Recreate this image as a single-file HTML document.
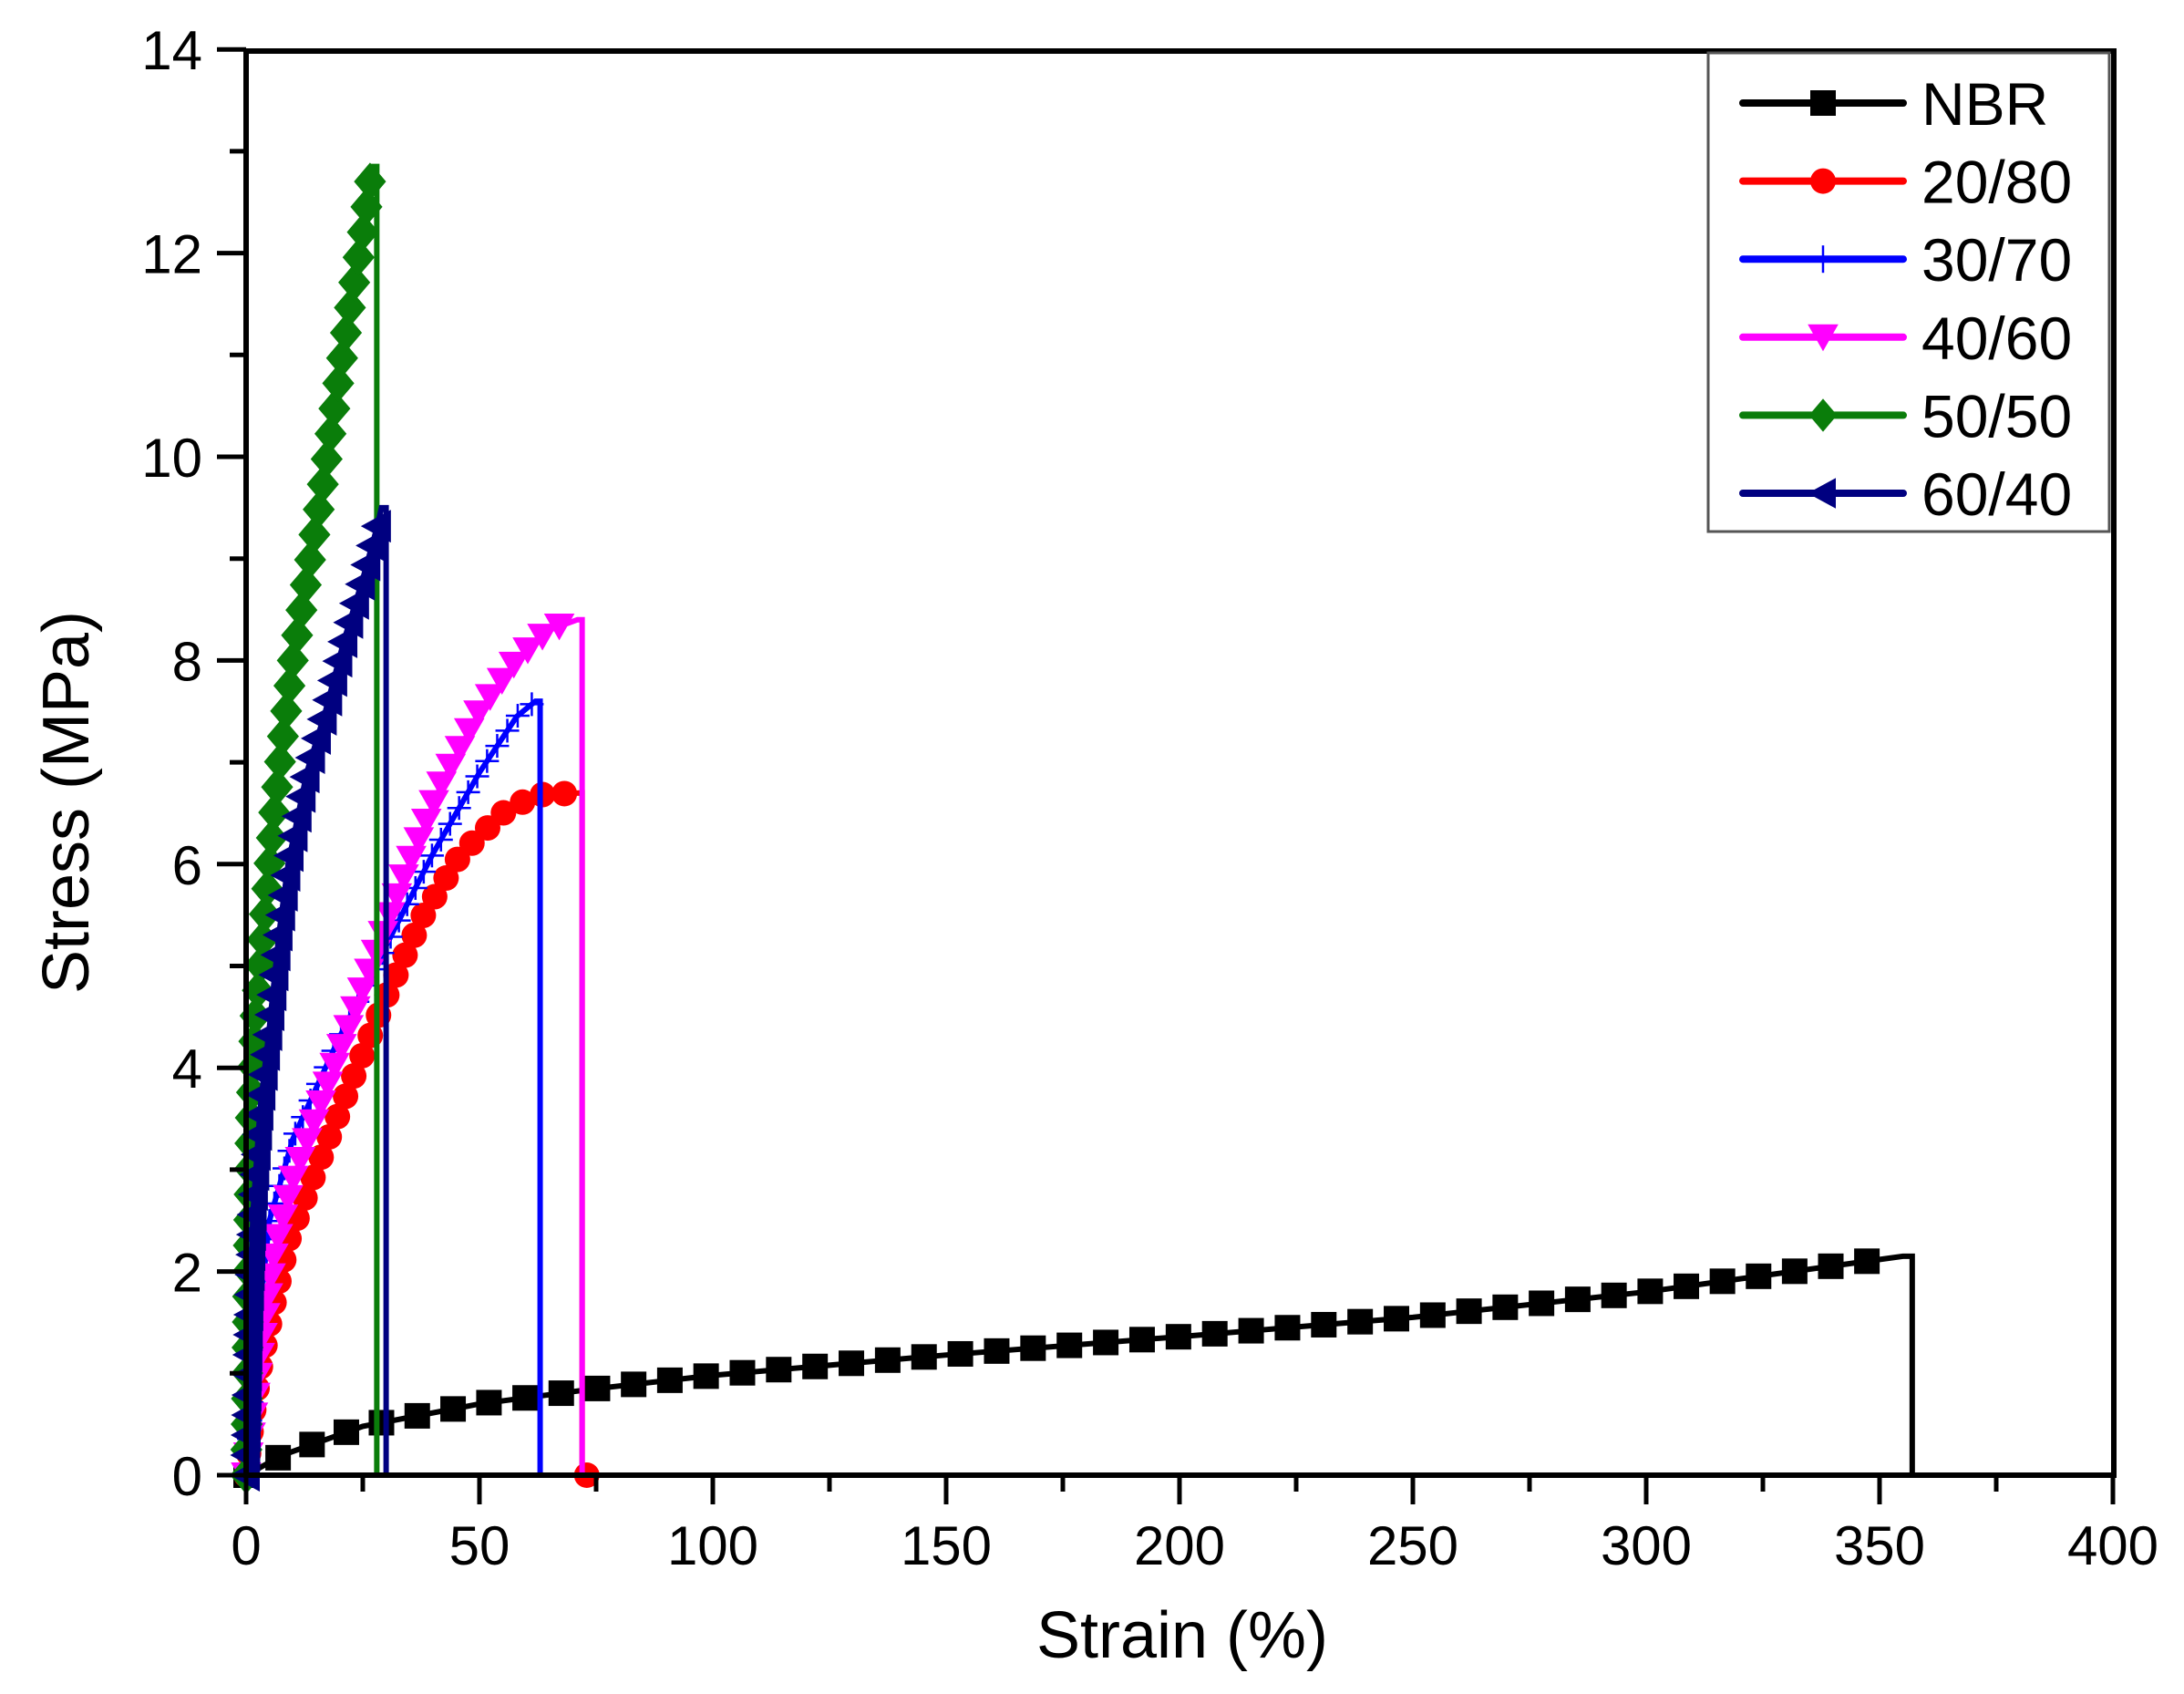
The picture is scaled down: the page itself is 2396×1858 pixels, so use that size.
<!DOCTYPE html>
<html><head><meta charset="utf-8"><style>
html,body{margin:0;padding:0;background:#fff;}
svg{display:block;font-family:"Liberation Sans",Arial,sans-serif;}
</style></head><body>
<svg id="s" width="2396" height="1858" viewBox="0 0 2396 1858" xmlns="http://www.w3.org/2000/svg">
<rect width="2396" height="1858" fill="#fff"/>
<g id="data"></g>
<rect x="270" y="56" width="2049" height="1562" fill="none" stroke="#000" stroke-width="6"/>
<g id="axes" stroke="#000" stroke-width="5"></g>
<g id="labels" font-size="60" fill="#000"></g>
<text x="1297" y="1818" font-size="72" text-anchor="middle">Strain (%)</text>
<text transform="translate(97,880) rotate(-90)" font-size="72" text-anchor="middle">Stress (MPa)</text>
<rect x="1874" y="58" width="440" height="525" fill="#fff" stroke="#555" stroke-width="3"/>
<g id="legend"></g>
</svg>
<script>
const NS="http://www.w3.org/2000/svg";
const X=v=>270+v*5.12, Y=s=>1618-s*111.7;
function el(t,a,p){const e=document.createElementNS(NS,t);for(const k in a)e.setAttribute(k,a[k]);(p||document.getElementById('data')).appendChild(e);return e;}
const ax=document.getElementById('axes'), lb=document.getElementById('labels');
for(let v=0;v<=400;v+=25){const maj=v%50==0;el('line',{x1:X(v),x2:X(v),y1:1618,y2:1618+(maj?32:18)},ax);
 if(maj){const t=el('text',{x:X(v),y:1716,'text-anchor':'middle'},lb);t.textContent=v;}}
for(let s=0;s<=14;s+=1){const maj=s%2==0;el('line',{x1:270,x2:270-(maj?32:18),y1:Y(s),y2:Y(s)},ax);
 if(maj){const t=el('text',{x:222,y:Y(s)+22,'text-anchor':'end'},lb);t.textContent=s;}}
function marker(type,x,y,c,g,sz){sz=sz||13;
 if(type=='sq')el('rect',{x:x-sz,y:y-sz,width:2*sz,height:2*sz,fill:c},g);
 else if(type=='ci')el('circle',{cx:x,cy:y,r:sz,fill:c},g);
 else if(type=='pl'){el('line',{x1:x-sz,x2:x+sz,y1:y,y2:y,stroke:c,'stroke-width':2.5},g);el('line',{x1:x,x2:x,y1:y-sz,y2:y+sz,stroke:c,'stroke-width':2.5},g);}
 else if(type=='dn')el('polygon',{points:`${x-sz*1.2},${y-sz} ${x+sz*1.2},${y-sz} ${x},${y+sz*1.1}`,fill:c},g);
 else if(type=='di')el('polygon',{points:`${x},${y-sz*1.3} ${x+sz*1.1},${y} ${x},${y+sz*1.3} ${x-sz*1.1},${y}`,fill:c},g);
 else if(type=='lt')el('polygon',{points:`${x-sz*1.2},${y} ${x+sz*1.0},${y-sz*1.2} ${x+sz*1.0},${y+sz*1.2}`,fill:c},g);
}
const series=[
 {c:'#000',m:'sq',sp:40,sz:14,pts:[[0,0],[8,0.2],[25,0.48],[50,0.7],[75,0.85],[100,0.98],[150,1.18],[200,1.36],[250,1.55],[300,1.8],[355,2.15]],drop:357},
 {c:'#ff0000',m:'ci',sp:24,sz:14,pts:[[0,0],[1.5,0.6],[3,1.05],[6,1.7],[9,2.3],[15,3],[22,3.8],[30,4.7],[38,5.5],[46,6.1],[55,6.5],[62,6.68],[72,6.7]],drop:72,end0:73},
 {c:'#0000ff',m:'pl',sp:20,sz:13,pts:[[0,0],[2,1.2],[5,2.5],[10,3.3],[20,4.3],[30,5.2],[40,6.1],[50,6.9],[58,7.45],[62,7.6]],drop:63},
 {c:'#ff00ff',m:'dn',sp:22,sz:14,pts:[[0,0],[1.5,0.6],[3,1.2],[6,2.2],[10,2.9],[18,3.9],[26,4.9],[34,5.9],[42,6.8],[50,7.5],[58,8.0],[65,8.3],[71,8.4]],drop:72},
 {c:'#0a7d0a',m:'di',sp:28,sz:16,pts:[[0,0],[0.5,2],[1,3.5],[2,4.5],[4,5.5],[6,6.5],[8,7.3],[10,8.0],[13,8.8],[16,9.6],[19,10.5],[22,11.4],[25,12.2],[27,12.85],[28,12.85]],drop:28},
 {c:'#000080',m:'lt',sp:22,sz:15,pts:[[0,0],[0.7,1.5],[1.5,2.6],[3,3.6],[5,4.4],[7,5.3],[9,6],[13,6.9],[17,7.5],[21,8.2],[25,8.8],[28,9.3],[29,9.5]],drop:30},
];
for(const s of series){const g=el('g',{});
 let d='M'+s.pts.map(p=>X(p[0])+','+Y(p[1])).join(' L');
 const last=s.pts[s.pts.length-1];d+=` L${X(s.drop)},${Y(last[1])} L${X(s.drop)},${Y(0)}`;
 el('path',{d,fill:'none',stroke:s.c,'stroke-width':6},g);
 let acc=0;const P=s.pts.map(p=>[X(p[0]),Y(p[1])]);marker(s.m,P[0][0],P[0][1],s.c,g,s.sz);
 for(let i=1;i<P.length;i++){const dx=P[i][0]-P[i-1][0],dy=P[i][1]-P[i-1][1],L=Math.hypot(dx,dy);
  let t=s.sp-acc;while(t<=L){marker(s.m,P[i-1][0]+dx*t/L,P[i-1][1]+dy*t/L,s.c,g,s.sz);t+=s.sp;}acc=L-(t-s.sp);}
 if(s.end0)marker(s.m,X(s.end0),Y(0),s.c,g,s.sz);
}
const lg=document.getElementById('legend');const names=['NBR','20/80','30/70','40/60','50/50','60/40'];
series.forEach((s,i)=>{const y=113+i*85.6;el('line',{x1:1912,x2:2088,y1:y,y2:y,stroke:s.c,'stroke-width':8,'stroke-linecap':'round'},lg);
 marker(s.m,2000,y,s.c,lg,s.m=='pl'?15:14);
 const t=el('text',{x:2108,y:y+24,'font-size':66},lg);t.textContent=names[i];});
</script>
</body></html>
